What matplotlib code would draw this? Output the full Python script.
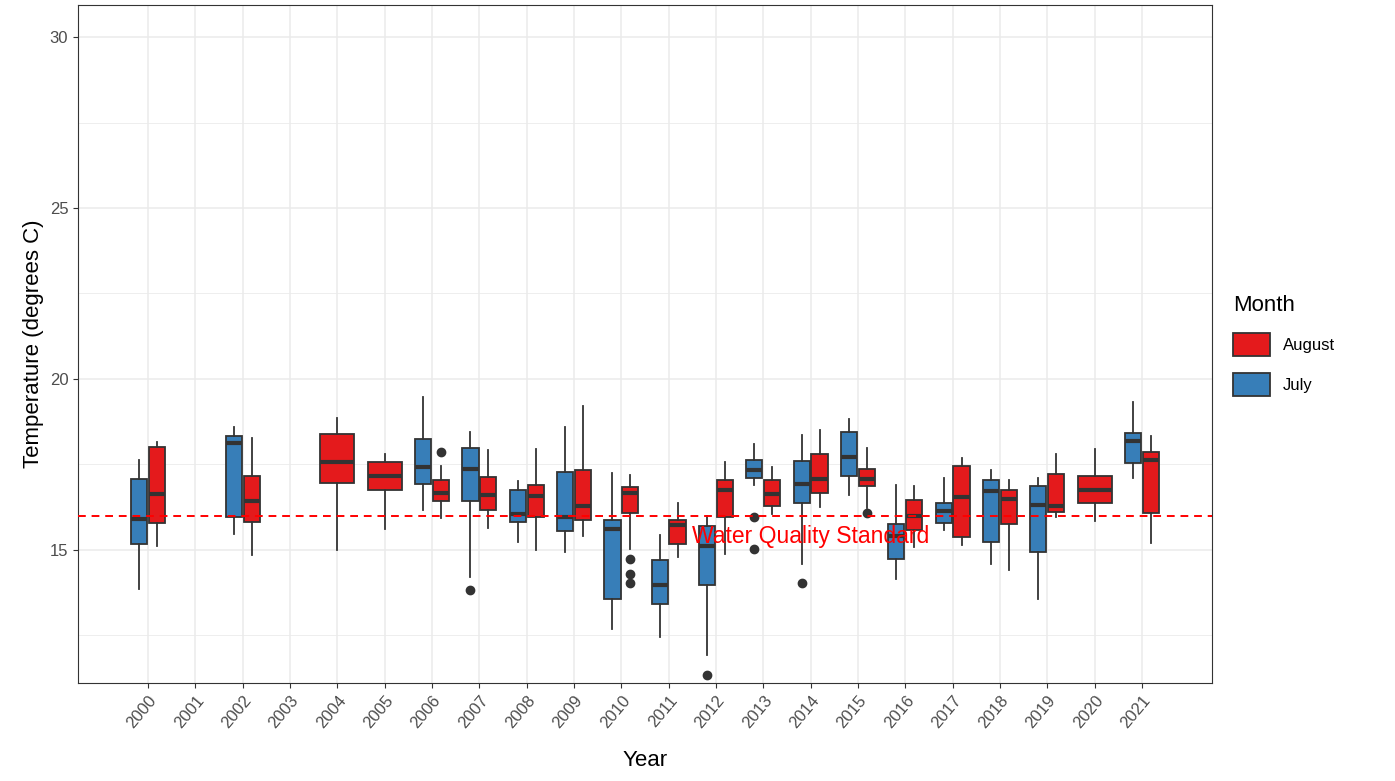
import matplotlib
matplotlib.use("Agg")
import matplotlib.pyplot as plt
from matplotlib.patches import Rectangle

plt.rcParams['font.family'] = ['Liberation Sans', 'DejaVu Sans']

years = list(range(2000, 2022))
# stats: low, q1, med, q3, high, outliers
july = {
    2000: (13.85, 15.18, 15.9, 17.07, 17.63, []),
    2002: (15.46, 15.95, 18.12, 18.34, 18.58, []),
    2006: (16.17, 16.93, 17.41, 18.24, 19.46, []),
    2007: (14.19, 16.44, 17.36, 17.99, 18.44, [13.83]),
    2008: (15.24, 15.81, 16.05, 16.75, 17.0, []),
    2009: (14.92, 15.54, 15.96, 17.26, 18.58, []),
    2010: (12.68, 13.57, 15.6, 15.86, 17.24, []),
    2011: (12.45, 13.41, 13.98, 14.69, 15.42, []),
    2012: (11.93, 13.98, 15.1, 15.68, 15.99, [11.34]),
    2013: (16.9, 17.1, 17.32, 17.63, 18.09, [15.97, 15.02]),
    2014: (14.58, 16.36, 16.93, 17.6, 18.36, [14.02]),
    2015: (16.59, 17.17, 17.7, 18.44, 18.83, []),
    2016: (14.15, 14.74, 15.39, 15.76, 16.9, []),
    2017: (15.58, 15.78, 16.12, 16.36, 17.1, []),
    2018: (14.59, 15.22, 16.72, 17.05, 17.32, []),
    2019: (13.57, 14.93, 16.32, 16.87, 17.1, []),
    2021: (17.1, 17.53, 18.18, 18.43, 19.31, []),
}
august = {
    2000: (15.12, 15.78, 16.63, 18.02, 18.14, []),
    2002: (14.85, 15.81, 16.42, 17.17, 18.28, []),
    2004: (14.98, 16.94, 17.58, 18.39, 18.85, []),
    2005: (15.6, 16.76, 17.15, 17.56, 17.8, []),
    2006: (15.93, 16.44, 16.66, 17.03, 17.46, [17.87]),
    2007: (15.63, 16.15, 16.6, 17.12, 17.92, []),
    2008: (14.98, 15.97, 16.56, 16.9, 17.95, []),
    2009: (15.41, 15.88, 16.27, 17.32, 19.22, []),
    2010: (15.02, 16.07, 16.66, 16.85, 17.19, [14.73, 14.3, 14.02]),
    2011: (14.79, 15.18, 15.73, 15.88, 16.36, []),
    2012: (14.88, 15.97, 16.75, 17.03, 17.56, []),
    2013: (16.05, 16.27, 16.64, 17.03, 17.43, []),
    2014: (16.25, 16.66, 17.07, 17.8, 18.51, []),
    2015: (16.22, 16.87, 17.07, 17.36, 17.99, [16.07]),
    2016: (15.08, 15.58, 15.99, 16.46, 16.87, []),
    2017: (15.15, 15.37, 16.53, 17.46, 17.68, []),
    2018: (14.4, 15.75, 16.49, 16.74, 17.03, []),
    2019: (15.97, 16.09, 16.29, 17.21, 17.8, []),
    2020: (15.83, 16.38, 16.75, 17.16, 17.95, []),
    2021: (15.2, 16.07, 17.63, 17.85, 18.33, []),
}
standard = 16
blue = "#377EB8"
red = "#E41A1C"
edge = "#333333"

fig = plt.figure(figsize=(13.95, 7.81), dpi=100)
ax = fig.add_axes([78/1395, 1-683/781, (1212-78)/1395, (683-5)/781])

def draw(stats, pos, width, color):
    lo, q1, med, q3, hi, out = stats
    s = [dict(whislo=lo, q1=q1, med=med, q3=q3, whishi=hi, fliers=out)]
    ax.bxp(s, positions=[pos], widths=width, patch_artist=True, showcaps=False,
           boxprops=dict(facecolor=color, edgecolor=edge, linewidth=1.3),
           medianprops=dict(color=edge, linewidth=3),
           whiskerprops=dict(color=edge, linewidth=1.3),
           flierprops=dict(marker='o', markerfacecolor=edge, markeredgecolor=edge, markersize=6),
           manage_ticks=False, zorder=3)

for i, y in enumerate(years):
    hj, ha = y in july, y in august
    if hj and ha:
        draw(july[y], i - 0.1875, 0.34, blue)
        draw(august[y], i + 0.1875, 0.34, red)
    elif hj:
        draw(july[y], i, 0.72, blue)
    elif ha:
        draw(august[y], i, 0.72, red)

ax.axhline(standard, color="red", linestyle=(0, (4, 3)), linewidth=1.4, zorder=4)
ax.text(14.0, 15.4, "Water Quality Standard", color="red", fontsize=16.5, ha="center", va="center", zorder=5)

ax.set_xlim(-1.48, 22.48)
ax.set_ylim(11.1, 30.94)
ax.set_xticks(range(len(years)))
ax.set_xticklabels([str(y) for y in years], rotation=50, ha="right", rotation_mode="anchor", fontsize=12, color="#4D4D4D")
ax.set_yticks([15, 20, 25, 30])
ax.set_yticks([12.5, 17.5, 22.5, 27.5], minor=True)
ax.tick_params(axis='y', labelsize=12, labelcolor="#4D4D4D", color="#333333")
ax.tick_params(axis='x', color="#333333")
ax.tick_params(which='minor', length=0)
ax.grid(True, which='major', color="#EBEBEB", linewidth=1.1, zorder=0)
ax.grid(True, which='minor', axis='y', color="#EBEBEB", linewidth=0.6, zorder=0)
ax.set_axisbelow(True)
for sp in ax.spines.values():
    sp.set_color("#333333")
ax.set_xlabel("Year", fontsize=16, labelpad=14)
ax.set_ylabel("Temperature (degrees C)", fontsize=16)

handles = [Rectangle((0, 0), 1, 1, facecolor=red, edgecolor=edge, linewidth=1.3),
           Rectangle((0, 0), 1, 1, facecolor=blue, edgecolor=edge, linewidth=1.3)]
leg = fig.legend(handles, ["August", "July"], title="Month", loc="upper left",
                 bbox_to_anchor=(1218/1395, 1-280/781), frameon=False, fontsize=12,
                 title_fontsize=16, handlelength=2.2, handleheight=1.8, labelspacing=1.0)
leg._legend_box.align = "left"
fig.savefig("out.png", dpi=100)
